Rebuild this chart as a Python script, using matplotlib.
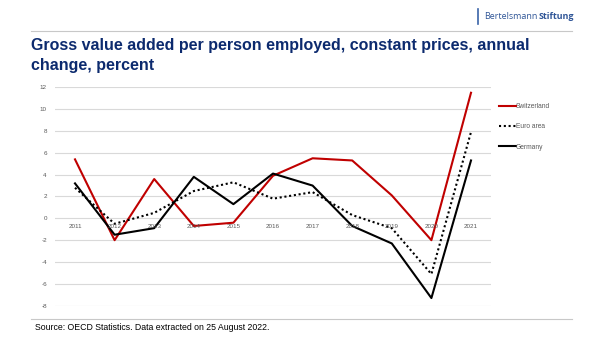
import numpy as np
import matplotlib
matplotlib.use("Agg")
import matplotlib.pyplot as plt
from matplotlib.lines import Line2D

plt.rcParams['font.family'] = ['Liberation Sans', 'DejaVu Sans']

years = ["2011", "2012", "2013", "2014", "2015", "2016", "2017", "2018", "2019", "2020", "2021"]
switzerland = [5.4, -2.0, 3.6, -0.7, -0.4, 3.9, 5.5, 5.3, 2.1, -2.0, 11.5]
euro_area = [2.8, -0.5, 0.5, 2.5, 3.3, 1.8, 2.4, 0.3, -0.9, -5.1, 7.9]
germany = [3.2, -1.5, -0.9, 3.8, 1.3, 4.1, 3.0, -0.7, -2.3, -7.3, 5.3]
y_ticks = [-8, -6, -4, -2, 0, 2, 4, 6, 8, 10, 12]

W, H = 602, 339
fig = plt.figure(figsize=(W / 100, H / 100), dpi=100)
fig.patch.set_facecolor("white")

def px(x, y):
    # pixel coords (from top-left) -> figure fraction
    return x / W, 1 - y / H

navy = "#0c2a6e"
grey = "#595959"

# header
fig.add_artist(Line2D([31 / W, 572 / W], [1 - 31 / H] * 2, color="#c8c8c8", lw=0.8))
fig.add_artist(Line2D([478 / W] * 2, [1 - 9 / H, 1 - 24 / H], color="#3a63a8", lw=1.2))
t = fig.text(*px(484, 16.5), "Bertelsmann", fontsize=6.4, color="#2f5597",
             family=["Open Sans", "DejaVu Sans"], va="center", ha="left")
fig.canvas.draw()
bb = t.get_window_extent()
fig.text((bb.x1 + 1.5) / W, 1 - 16.5 / H, "Stiftung", fontsize=6.4, color="#2f5597",
         family=["Open Sans", "DejaVu Sans"], fontweight="bold", va="center", ha="left")

fig.text(*px(31, 50), "Gross value added per person employed, constant prices, annual",
         fontsize=11.5, fontweight="bold", color=navy, va="baseline")
fig.text(*px(31, 70), "change, percent",
         fontsize=11.5, fontweight="bold", color=navy, va="baseline")

# chart
ax = fig.add_axes([55.2 / W, 1 - 305.7 / H, 435.6 / W, 218.4 / H])
x = np.arange(len(years))
ax.plot(x, switzerland, color="#c00000", lw=1.5, label="Switzerland")
ax.plot(x, euro_area, color="black", lw=1.5, ls=(0, (1, 1.3)), label="Euro area")
ax.plot(x, germany, color="black", lw=1.5, label="Germany")

ax.set_xlim(-0.5, len(years) - 0.5)
ax.set_ylim(-8, 12)
ax.set_yticks(y_ticks)
ax.set_yticklabels([str(v) for v in y_ticks])
ax.tick_params(axis="y", length=0, labelsize=4.5, labelcolor=grey, pad=6)
ax.set_xticks([])
ax.grid(axis="y", color="#d9d9d9", lw=0.8)
ax.set_axisbelow(True)
for s in ax.spines.values():
    s.set_visible(False)
for i, yr in enumerate(years):
    ax.annotate(yr, (i, 0), xytext=(0, -4), textcoords="offset points",
                ha="center", va="top", fontsize=4.5, color=grey)

leg = ax.legend(loc="upper left", bbox_to_anchor=(1.007, 0.95), frameon=False,
                fontsize=4.8, handlelength=2.55, handletextpad=0.0,
                labelspacing=2.0, borderaxespad=0.3)
for txt in leg.get_texts():
    txt.set_color(grey)

# footer
fig.add_artist(Line2D([31 / W, 572 / W], [1 - 318.5 / H] * 2, color="#c8c8c8", lw=0.8))
fig.text(*px(35, 328), "Source: OECD Statistics. Data extracted on 25 August 2022.",
         fontsize=6.35, color="black", va="center")

fig.savefig("out.png", dpi=100)
